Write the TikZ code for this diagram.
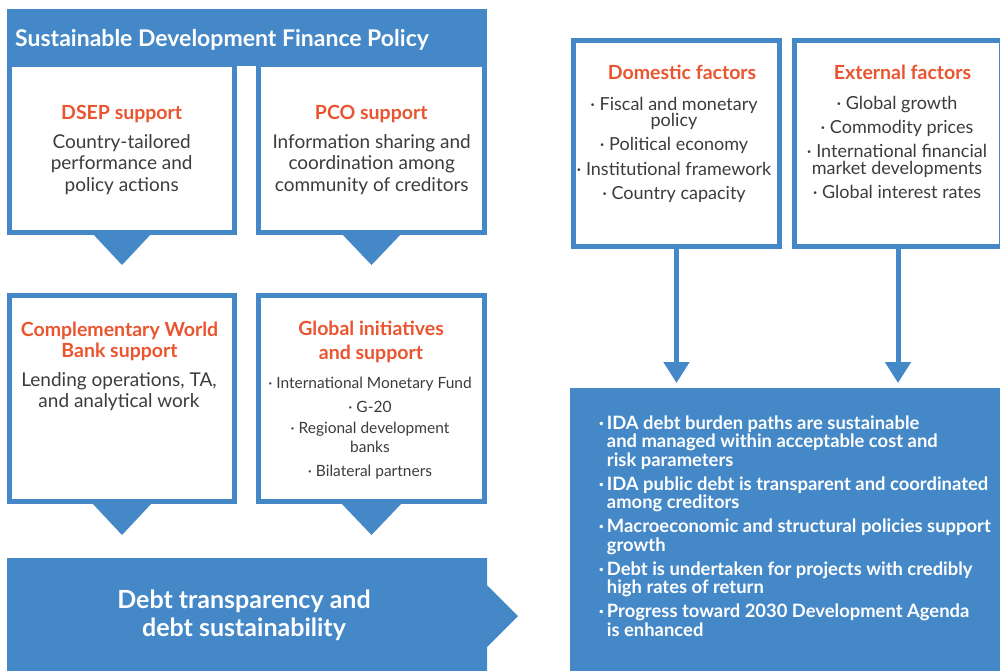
\documentclass[tikz,border=0pt]{standalone}
\usepackage{fontspec}
\setmainfont{Lato}
\usetikzlibrary{arrows.meta}
\definecolor{bluec}{HTML}{4588C7}
\definecolor{orangec}{HTML}{EA5530}
\definecolor{grayc}{HTML}{3C3C3C}
\begin{document}
\begin{tikzpicture}[x=1pt,y=-1pt,
  frame/.style={draw=bluec, line width=5pt, fill=white, inner sep=0pt, outer sep=0pt},
  panel/.style={fill=bluec, inner sep=0pt, outer sep=0pt},
  hdr/.style={font=\bfseries\fontsize{19.5}{21}\selectfont, text=orangec, align=center, inner sep=0pt, anchor=base},
  body/.style={font=\fontsize{19}{21.7}\selectfont, text=grayc, align=center, inner sep=0pt, anchor=base},
  lst/.style={font=\fontsize{18}{17}\selectfont, text=grayc, align=center, inner sep=0pt, anchor=base},
  flow/.style={draw=bluec, line width=5pt, -{Triangle[width=25pt,length=21pt]}, shorten >=5pt}
]
\useasboundingbox (0,0) rectangle (1000,670);

% left column boxes
\node[frame, minimum width=225pt, minimum height=168pt] (b1) at (122,148.5) {};
\node[frame, minimum width=226pt, minimum height=168pt] (b2) at (371.5,148.5) {};
\node[frame, minimum width=225pt, minimum height=206pt] (b3) at (122,398.8) {};
\node[frame, minimum width=226pt, minimum height=206pt] (b4) at (371.5,398.8) {};

% pointers
\fill[bluec] (92,233) -- (152,233) -- (122,265) -- cycle;
\fill[bluec] (341,233) -- (402,233) -- (371.5,265) -- cycle;
\fill[bluec] (92,503) -- (152,503) -- (122,535) -- cycle;
\fill[bluec] (341,503) -- (402,503) -- (371.5,535) -- cycle;

% top banner
\node[panel, minimum width=480pt, minimum height=57pt] (banner) at (247,37.5) {};
\node[anchor=base west, inner sep=0pt, text=white, font=\bfseries\fontsize{23}{24}\selectfont] (title) at (15,46) {Sustainable Development Finance Policy};

% texts left (multi-line nodes: base = last line)
\node[hdr] (h1) at (121.7,119) {DSEP support};
\node[body] (t1) at (121.7,191.4) {Country-tailored\\performance and\\policy actions};
\node[hdr] (h2) at (371.3,119) {PCO support};
\node[body] (t2) at (371.7,191.4) {Information sharing and\\coordination among\\community of creditors};
\node[hdr] (h3) at (119.5,357) {Complementary World\\Bank support};
\node[body] (t3) at (119,407.7) {Lending operations, TA,\\and analytical work};
\node[hdr] (h4) at (371,359) {Global initiatives\\[3pt]and support};
\node[lst, font=\fontsize{15.5}{19}\selectfont] (l4) at (370,476.7) {· International Monetary Fund\\[5pt]· G-20\\[2pt]· Regional development\\banks\\[5.7pt]· Bilateral partners};

% bottom banner
\fill[bluec] (7,558) -- (487,558) -- (487,585) -- (518,616) -- (487,647) -- (487,672) -- (7,672) -- cycle;
\node[anchor=base, align=center, inner sep=0pt, text=white, font=\bfseries\fontsize{25}{28.3}\selectfont] (dts) at (244,636.6) {Debt transparency and\\debt sustainability};

% right column
\node[frame, minimum width=206pt, minimum height=206pt] (dom) at (676.5,143.5) {};
\node[frame, minimum width=207pt, minimum height=206pt] (ext) at (898,143.5) {};
\node[panel, minimum width=434pt, minimum height=286pt] (out) at (787,531) {};

\node[hdr] (hd) at (682,79.3) {Domestic factors};
\node[lst, font=\fontsize{18}{16.7}\selectfont] (ld) at (674,199.3) {· Fiscal and monetary\\policy\\[7.3pt]· Political economy\\[7.6pt]· Institutional framework\\[7.6pt]· Country capacity};
\node[hdr] (he) at (902.5,79.3) {External factors};
\node[lst] (le) at (897,198.3) {· Global growth\\[6.7pt]· Commodity prices\\[7pt]· International financial\\market developments\\[7pt]· Global interest rates};

\draw[flow] (dom.south) -- (dom.south |- out.north);
\draw[flow] (ext.south) -- (ext.south |- out.north);

\node[anchor=base west, align=left, inner sep=0pt, text=white, font=\bfseries\fontsize{18.4}{18.5}\selectfont] (otx) at (606.7,636) {%
\llap{·\,}IDA debt burden paths are sustainable\\
and managed within acceptable cost and\\
risk parameters\\[5.5pt]
\llap{·\,}IDA public debt is transparent and coordinated\\
among creditors\\[5.5pt]
\llap{·\,}Macroeconomic and structural policies support\\
growth\\[5.5pt]
\llap{·\,}Debt is undertaken for projects with credibly\\
high rates of return\\[5.5pt]
\llap{·\,}Progress toward 2030 Development Agenda\\
is enhanced};
\end{tikzpicture}
\end{document}
